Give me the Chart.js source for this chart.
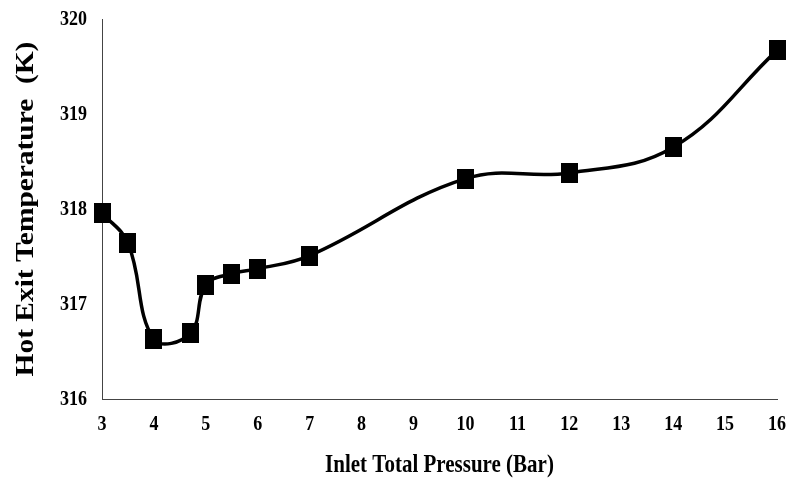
<!DOCTYPE html>
<html><head><meta charset="utf-8">
<script src="https://cdn.jsdelivr.net/npm/chart.js@4/dist/chart.umd.min.js"></script>
<style>
html,body{margin:0;padding:0;background:#fff;overflow:hidden;}
#wrap{position:relative;width:787px;height:479px;}
</style></head><body>
<div id="wrap"><canvas id="c"></canvas></div>
<script>
const pressures = [3, 3.5, 4, 4.7, 5, 5.5, 6, 7, 10, 12, 14, 16];
const temperatures = [317.96, 317.64, 316.63, 316.69, 317.20, 317.32, 317.37, 317.51, 318.32, 318.38, 318.65, 319.67];
const xTitle = 'Inlet Total Pressure (Bar)';
const yTitle = 'Hot Exit Temperature  (K)';
const xRange = [3, 16];
const yRange = [316, 320];

const points = pressures.map((p, i) => ({x: p, y: temperatures[i]}));
const serif = "'Liberation Serif', 'Times New Roman', serif";

// square marker, slightly taller than wide as in the reference
const marker = document.createElement('canvas');
marker.width = 17; marker.height = 20;
(function () { const m = marker.getContext('2d'); m.fillStyle = '#000'; m.fillRect(0, 0, 17, 20); })();

// text in the reference is stretched vertically; stretch glyphs about their anchor
const TEXT_STRETCH = 1.2;
const stretchText = {
  id: 'stretchText',
  beforeDraw(chart) {
    const ctx = chart.ctx;
    if (ctx.__stretched) return;
    const orig = ctx.fillText;
    ctx.fillText = function (text, x, y, maxW) {
      const m = this.getTransform();
      const p = m.transformPoint(new DOMPoint(x, y));
      const s = new DOMMatrix().translate(p.x, p.y).scale(1, TEXT_STRETCH).translate(-p.x, -p.y);
      this.setTransform(s.multiply(m));
      if (maxW === undefined) orig.call(this, text, x, y); else orig.call(this, text, x, y, maxW);
      this.setTransform(m);
    };
    ctx.__stretched = true;
  }
};

const noScalePadding = s => { s.paddingTop = 0; s.paddingBottom = 0; s.paddingLeft = 0; s.paddingRight = 0; };

new Chart(document.getElementById('c'), {
  type: 'scatter',
  data: {
    datasets: [{
      data: points,
      showLine: true,
      borderColor: '#000',
      backgroundColor: '#000',
      borderWidth: 3.5,
      tension: 0.4,
      pointStyle: marker,
      pointRadius: 10,
      pointHoverRadius: 10,
      clip: false
    }]
  },
  options: {
    responsive: true,
    maintainAspectRatio: false,
    animation: false,
    events: [],
    layout: {autoPadding: false, padding: {left: 0, right: 10, top: 19, bottom: 0}},
    plugins: {legend: {display: false}, tooltip: {enabled: false}},
    scales: {
      x: {
        type: 'linear',
        min: xRange[0], max: xRange[1],
        grid: {display: false, drawTicks: false},
        border: {display: true, color: '#444', width: 1},
        ticks: {stepSize: 1, padding: 15, color: '#000', font: {family: serif, size: 18, weight: 'bold'}},
        title: {display: true, text: xTitle, color: '#000', padding: {top: 0, bottom: 1.4}, font: {family: serif, size: 21, weight: 'bold', lineHeight: 1.2}},
        afterFit: s => { s.height = 80; noScalePadding(s); }
      },
      y: {
        type: 'linear',
        min: yRange[0], max: yRange[1],
        grid: {display: false, drawTicks: false},
        border: {display: true, color: '#444', width: 1},
        ticks: {stepSize: 1, padding: 15, color: '#000', font: {family: serif, size: 18, weight: 'bold'}},
        title: {display: true, text: yTitle, color: '#000', padding: {top: 12, bottom: 0}, font: {family: serif, size: 24.5, weight: 'bold', lineHeight: 1.2}},
        afterFit: s => { s.width = 102; noScalePadding(s); }
      }
    }
  },
  plugins: [stretchText]
});
</script>
</body></html>
